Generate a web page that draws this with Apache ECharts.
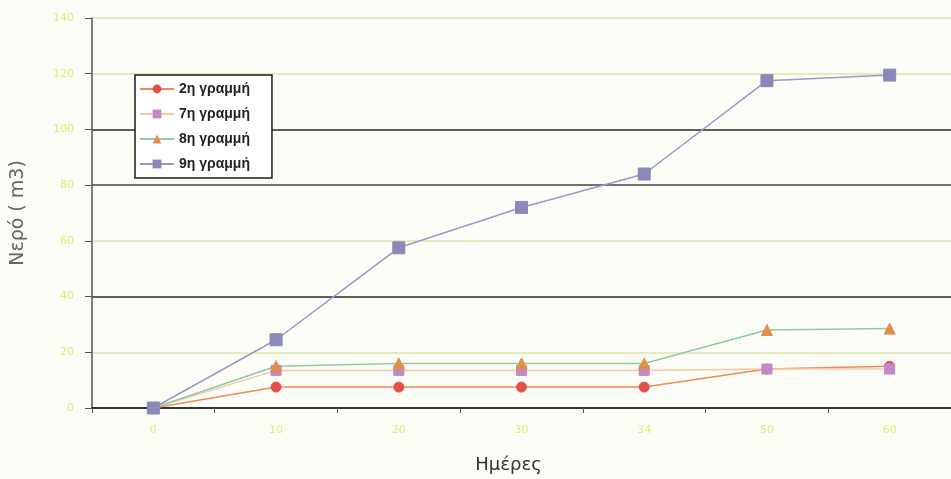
<!DOCTYPE html>
<html>
<head>
<meta charset="utf-8">
<script src="https://cdn.jsdelivr.net/npm/echarts@6/dist/echarts.min.js"></script>
<style>
  html, body { margin: 0; padding: 0; background: #fcfcf6; }
  #chart { width: 951px; height: 479px; }
</style>
</head>
<body>
<div id="chart"></div>
<script>
// Days of measurement (category axis)
const days = ['0', '10', '20', '30', '34', '50', '60'];

// Water volume (m3) per line
const line2 = [0, 7.5, 7.5, 7.5, 7.5, 14, 15];
const line7 = [0, 13.5, 13.5, 13.5, 13.5, 14, 14];
const line8 = [0, 15, 16, 16, 16, 28, 28.5];
const line9 = [0, 24.5, 57.5, 72, 84, 117.5, 119.5];

const seriesNames = ['2η γραμμή', '7η γραμμή', '8η γραμμή', '9η γραμμή'];

// Horizontal grid line colours, from 0 up to 140
const gridColors = ['#333', '#dfe6a8', '#2a2a2a', '#dfe6a8', '#444', '#2a2a2a', '#dfe6a8', '#dfe6a8'];

const chart = echarts.init(document.getElementById('chart'));

function mk(name, data, lineColor, markColor, symbol, size) {
  return {
    name: name,
    type: 'line',
    data: data,
    symbol: symbol,
    symbolSize: size,
    lineStyle: { color: lineColor, width: 1.5 },
    itemStyle: { color: markColor, borderColor: markColor },
    z: 3
  };
}

chart.setOption({
  backgroundColor: '#fcfcf6',
  animation: false,
  grid: { left: 92, right: -6, top: 18, bottom: 68 },
  legend: {
    orient: 'vertical',
    left: 135,
    top: 75,
    padding: [7, 22, 7, 4],
    itemGap: 11,
    itemWidth: 34,
    itemHeight: 11,
    backgroundColor: '#ffffff',
    borderColor: '#1a1a1a',
    borderWidth: 1.5,
    textStyle: { fontFamily: 'Liberation Sans', fontWeight: 'bold', fontSize: 14, color: '#222' },
    data: seriesNames
  },
  xAxis: {
    type: 'category',
    data: days,
    boundaryGap: true,
    name: 'Ημέρες',
    nameLocation: 'middle',
    nameGap: 48,
    nameTextStyle: { fontFamily: 'DejaVu Sans', fontSize: 18, color: '#333', padding: [0, 26, 0, 0] },
    axisLine: { lineStyle: { color: '#333', width: 2 } },
    axisTick: { show: true, length: 5, lineStyle: { color: '#555' } },
    axisLabel: { color: '#e4ea78', fontFamily: 'DejaVu Sans', fontSize: 11, margin: 17 },
    splitLine: { show: false }
  },
  yAxis: {
    type: 'value',
    min: 0,
    max: 140,
    interval: 20,
    name: 'Νερό ( m3)',
    nameLocation: 'middle',
    nameGap: 64,
    nameRotate: 90,
    nameTextStyle: { fontFamily: 'DejaVu Sans', fontSize: 19, color: '#666' },
    axisLine: { show: true, lineStyle: { color: '#555', width: 1.5 } },
    axisTick: { show: true, length: 7, lineStyle: { color: '#555' } },
    axisLabel: { color: '#e4ea78', fontFamily: 'DejaVu Sans', fontSize: 11, margin: 18 },
    splitLine: { show: true, lineStyle: { color: gridColors, width: 1.5 } }
  },
  series: [
    mk(seriesNames[0], line2, '#f08a5a', '#e2504a', 'circle', 10),
    mk(seriesNames[1], line7, '#f7c8a8', '#c08ac8', 'rect', 10),
    mk(seriesNames[2], line8, '#8ccaa8', '#e0904a', 'triangle', 11),
    mk(seriesNames[3], line9, '#9a9ac6', '#8a88b8', 'rect', 12)
  ]
});
</script>
</body>
</html>
